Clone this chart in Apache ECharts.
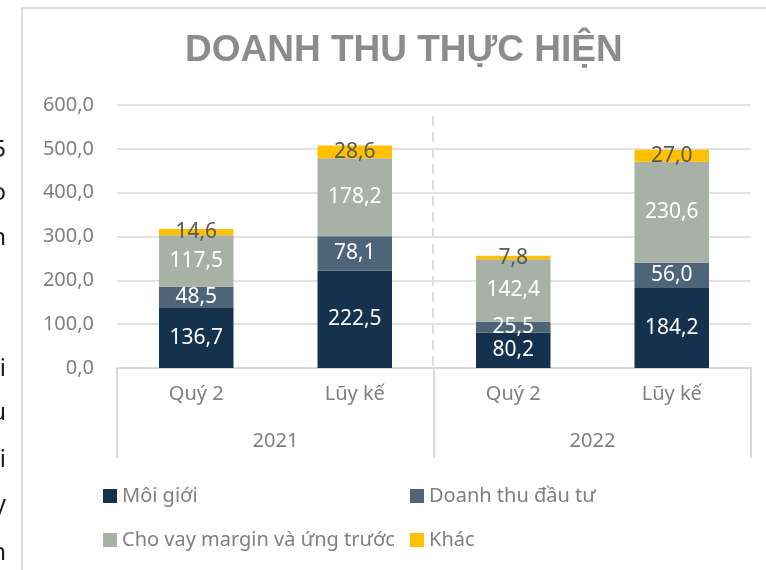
<!DOCTYPE html>
<html>
<head>
    <meta charset="UTF-8">
    <title>Doanh thu thực hiện</title>
    <style>
        html, body {
            margin: 0;
            padding: 0;
            background: #fff;
        }

        #chart {
            width: 766px;
            height: 570px;
        }
    </style>
</head>
<body>
<div id="chart"></div>
<script src="https://cdn.jsdelivr.net/npm/echarts@6/dist/echarts.min.js"></script>
<script>
    // so lieu doc tu hinh
    var categories = ['Quý 2', 'Lũy kế', 'Quý 2', 'Lũy kế'];
    var years = ['2021', '2022'];
    var moiGioi = [136.7, 222.5, 80.2, 184.2];
    var dauTu = [48.5, 78.1, 25.5, 56.0];
    var choVay = [117.5, 178.2, 142.4, 230.6];
    var khac = [14.6, 28.6, 7.8, 27.0];
    var yTicks = [0, 100, 200, 300, 400, 500, 600];

    var FONT = '"Noto Sans", sans-serif';

    var fmt = function (v) {
        return Number(v).toFixed(1).replace('.', ',');
    };

    var buildSeries = function (name, data, color, labelColor) {
        return {
            name: name
            , type: 'bar'
            , stack: 'total'
            , barWidth: '47%'
            , data: data
            , itemStyle: {color: color}
            , label: {
                show: true
                , position: 'inside'
                , color: labelColor
                , fontFamily: FONT
                , fontSize: 21
                , formatter: function (p) {
                    return fmt(p.value);
                }
            }
        };
    };

    // may chu bi cat o mep trai trong anh goc
    var strayChars = [['5', 150], ['o', 193], ['n', 238], ['i', 369], ['u', 413], ['i', 460], ['y', 505], ['n', 553]];
    var graphics = [{
        type: 'rect'
        , shape: {x: 22, y: 8, width: 800, height: 620}
        , style: {fill: null, stroke: '#d9dde2', lineWidth: 2}
    }, {
        // duong gach chia hai nam
        type: 'line'
        , shape: {x1: 433, y1: 116, x2: 433, y2: 367}
        , style: {stroke: '#dcdcdc', lineWidth: 2, lineDash: [10, 6]}
    }];
    strayChars.forEach(function (it) {
        graphics.push({
            type: 'text'
            , x: 6
            , y: it[1]
            , style: {
                text: it[0]
                , fill: '#1a1a1a'
                , font: '24px "Noto Sans"'
                , align: 'right'
                , verticalAlign: 'middle'
            }
        });
    });

    var chart = echarts.init(document.getElementById('chart'));
    chart.setOption({
        animation: false
        , title: {
            text: 'DOANH THU THỰC HIỆN'
            , left: 180
            , top: 27
            , textStyle: {
                fontFamily: '"Liberation Sans", Arial, sans-serif'
                , fontWeight: 'bold'
                , fontSize: 37
                , color: '#8c8c8c'
            }
        }
        , graphic: graphics
        , legend: [{
            data: ['Môi giới', 'Cho vay margin và ứng trước']
            , orient: 'vertical'
            , left: 98
            , top: 481
            , itemGap: 24
            , itemWidth: 14
            , itemHeight: 14
            , icon: 'rect'
            , textStyle: {fontFamily: FONT, fontSize: 20, color: '#7f7f7f'}
        }, {
            data: ['Doanh thu đầu tư', 'Khác']
            , orient: 'vertical'
            , left: 405
            , top: 481
            , itemGap: 24
            , itemWidth: 14
            , itemHeight: 14
            , icon: 'rect'
            , textStyle: {fontFamily: FONT, fontSize: 20, color: '#7f7f7f'}
        }]
        , grid: {left: 117, right: 15, top: 105, bottom: 202}
        , xAxis: [{
            type: 'category'
            , data: categories
            , axisLine: {lineStyle: {color: '#d9d9d9', width: 2}}
            , axisTick: {show: false}
            , axisLabel: {fontFamily: FONT, fontSize: 20, color: '#7f7f7f', margin: 16}
        }, {
            type: 'category'
            , data: years
            , position: 'bottom'
            , axisLine: {show: false}
            , axisTick: {show: true, length: 90, lineStyle: {color: '#d9d9d9', width: 2}}
            , axisLabel: {fontFamily: FONT, fontSize: 20, color: '#7f7f7f', margin: 63}
            , splitLine: {show: false}
        }]
        , yAxis: {
            type: 'value'
            , min: yTicks[0]
            , max: yTicks[yTicks.length - 1]
            , interval: 100
            , axisLine: {show: false}
            , axisTick: {show: false}
            , axisLabel: {
                fontFamily: FONT
                , fontSize: 20
                , color: '#7f7f7f'
                , margin: 23
                , formatter: fmt
            }
            , splitLine: {lineStyle: {color: '#e3e3e3', width: 2}}
        }
        , series: [
            buildSeries('Môi giới', moiGioi, '#14324d', '#ffffff')
            , buildSeries('Doanh thu đầu tư', dauTu, '#4e6479', '#ffffff')
            , buildSeries('Cho vay margin và ứng trước', choVay, '#a7b1a6', '#ffffff')
            , buildSeries('Khác', khac, '#ffc000', '#595959')
        ]
    });
</script>
</body>
</html>
